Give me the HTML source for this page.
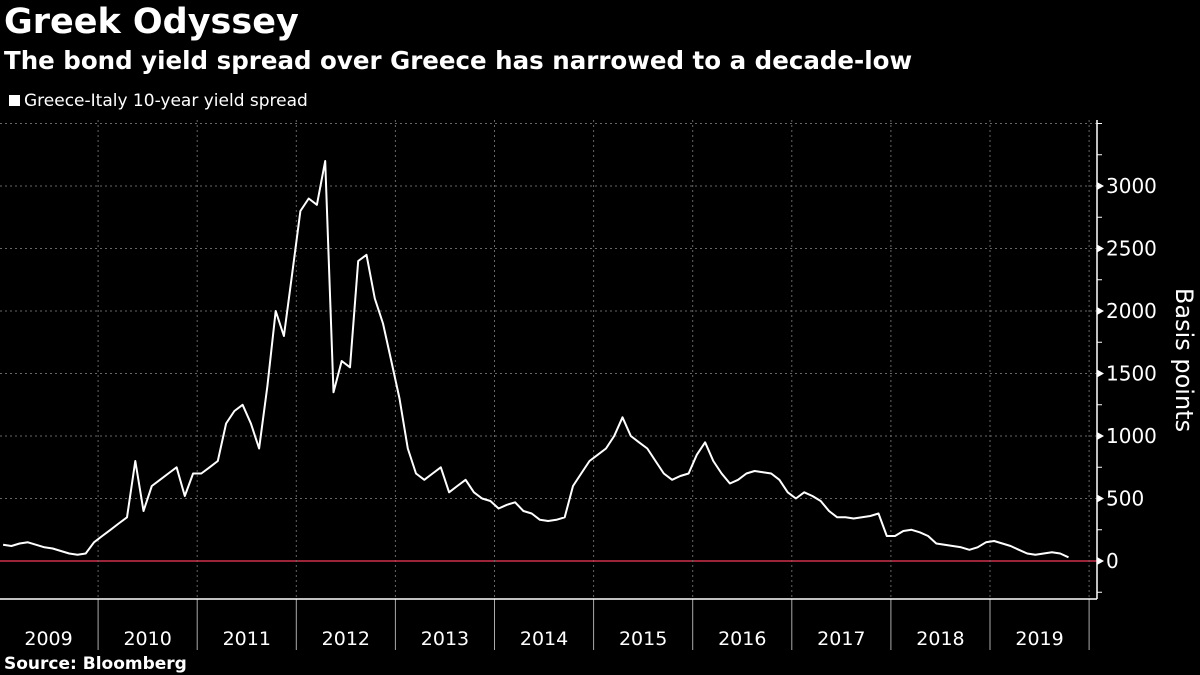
<!DOCTYPE html>
<html><head><meta charset="utf-8"><style>
body{margin:0;background:#000;width:1200px;height:675px;overflow:hidden;font-family:"DejaVu Sans","Liberation Sans",sans-serif;color:#fff}
</style></head><body>
<svg width="1200" height="675" style="position:absolute;left:0;top:0" font-family="DejaVu Sans, Liberation Sans, sans-serif">
<text x="4" y="33" font-size="35" font-weight="bold" fill="#fff">Greek Odyssey</text>
<text x="4" y="69" font-size="24.5" font-weight="bold" fill="#fff">The bond yield spread over Greece has narrowed to a decade-low</text>
<rect x="9" y="95" width="11" height="11" fill="#fff"/>
<text x="24" y="106" font-size="17" fill="#fff">Greece-Italy 10-year yield spread</text>
<g id="grid"></g>
<g id="axes"></g>
<path id="line" fill="none" stroke="#fff" stroke-width="2" stroke-linejoin="round"/>
<text transform="translate(1176,360) rotate(90)" text-anchor="middle" font-size="24" fill="#fff">Basis points</text>
<text x="4" y="669" font-size="17" font-weight="bold" fill="#fff">Source: Bloomberg</text>
</svg>
<script>
const years=[2009,2010,2011,2012,2013,2014,2015,2016,2017,2018,2019];
const yTicks=[0,500,1000,1500,2000,2500,3000];
const spread=[
130,120,140,150,130,110,100,80,60,50,60,150,
200,250,300,350,800,400,600,650,700,750,520,700,
700,750,800,1100,1200,1250,1100,900,1400,2000,1800,2300,
2800,2900,2850,3200,1350,1600,1550,2400,2450,2100,1900,1600,
1300,900,700,650,700,750,550,600,650,550,500,480,
420,450,470,400,380,330,320,330,350,600,700,800,
850,900,1000,1150,1000,950,900,800,700,650,680,700,
850,950,800,700,620,650,700,720,710,700,650,550,
500,550,520,480,400,350,350,340,350,360,380,200,
200,240,250,230,200,140,130,120,110,90,110,150,
160,140,120,90,60,50,60,70,60,30];
(function(){
const NS="http://www.w3.org/2000/svg";
const x0=-1,yearW=99.1,yZero=561,pxPer=0.125,topY=120,bottomY=599,axisX=1097;
const xs=t=>x0+t*yearW;
const ys=v=>yZero-v*pxPer;
function mk(tag,attrs,parent){const e=document.createElementNS(NS,tag);for(const k in attrs)e.setAttribute(k,attrs[k]);parent.appendChild(e);return e;}
const grid=document.getElementById('grid'),axes=document.getElementById('axes');
for(let v=500;v<=3500;v+=500){
  const g=mk('line',{x1:0,x2:axisX,y1:ys(v),y2:ys(v),stroke:'#666','stroke-dasharray':'2,3','stroke-width':1},grid);
  
  
}
const zl=mk('line',{x1:0,x2:axisX,y1:ys(0),y2:ys(0),stroke:'#d0304a','stroke-width':1.5},grid);


for(let i=1;i<=years.length;i++){
  const x=xs(i);
  const g=mk('line',{x1:x,x2:x,y1:topY,y2:bottomY,stroke:'#666','stroke-dasharray':'2,3','stroke-width':1},grid);
  
  
  const t=mk('line',{x1:x,x2:x,y1:bottomY,y2:650,stroke:'#aaa','stroke-width':1},axes);
  
  
}
years.forEach((y,i)=>{
  const l=mk('text',{x:xs(i+0.5),y:645,'text-anchor':'middle','font-size':19,fill:'#fff'},axes);
  l.textContent=y;
  
  
});
const bx=mk('line',{x1:0,x2:axisX,y1:bottomY,y2:bottomY,stroke:'#fff','stroke-width':1.5},axes);


const ax=mk('line',{x1:axisX,x2:axisX,y1:topY,y2:bottomY,stroke:'#fff','stroke-width':1.5},axes);


for(let v=-250;v<=3500;v+=250){
  const y=ys(v);
  const m=mk('line',{x1:axisX,x2:axisX+5,y1:y,y2:y,stroke:'#fff','stroke-width':1},axes);
  
  
}
yTicks.forEach(v=>{
  const y=ys(v);
  const a=mk('path',{d:`M${axisX} ${y-4}L${axisX+7} ${y}L${axisX} ${y+4}Z`,fill:'#fff'},axes);
  
  
  const l=mk('text',{x:axisX+9,y:y+7,'font-size':20,fill:'#fff'},axes);
  l.textContent=v;
  
  
});
let d='';
spread.forEach((v,i)=>{d+=(i?'L':'M')+xs((i+0.5)/12).toFixed(1)+' '+ys(v).toFixed(1);});
document.getElementById('line').setAttribute('d',d);
})();
</script>
</body></html>
